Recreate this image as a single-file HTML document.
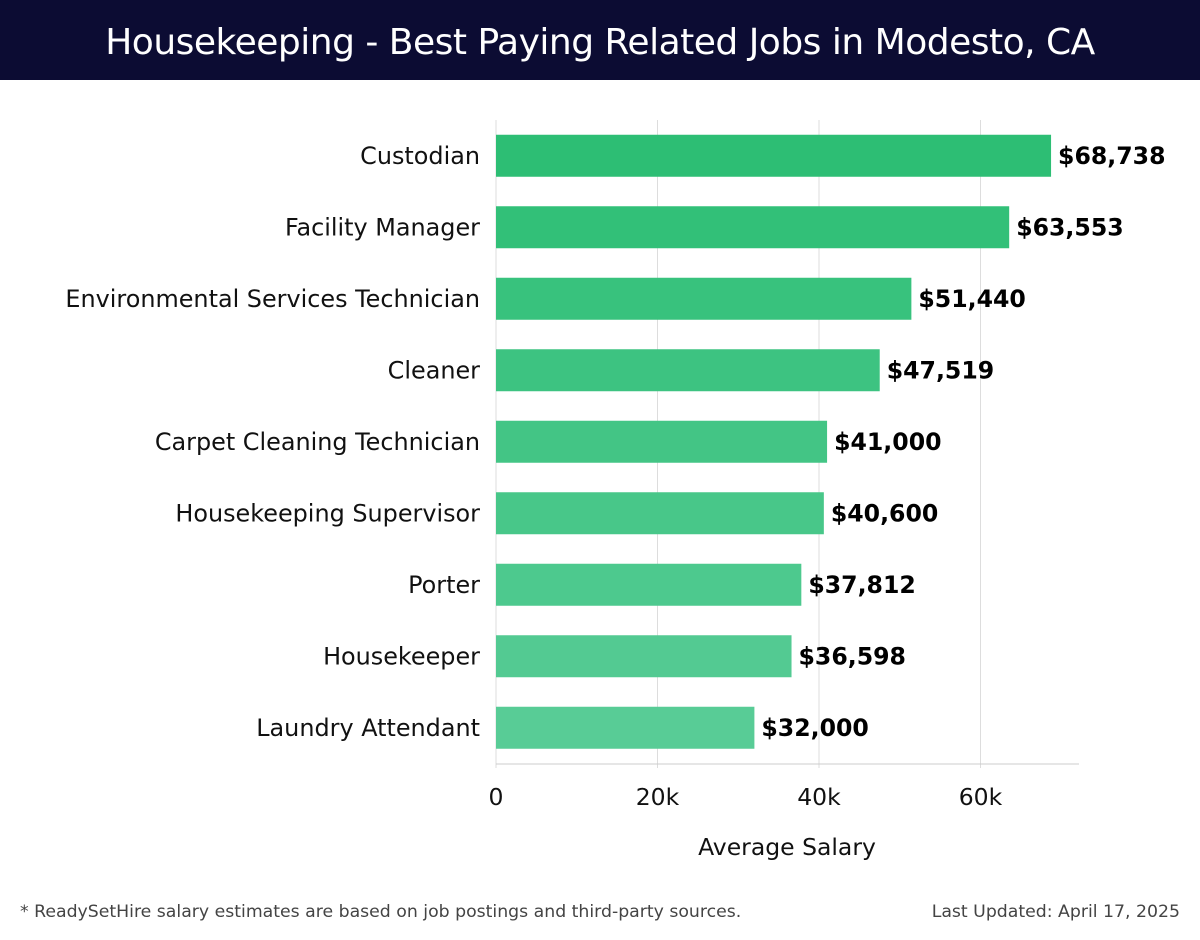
<!DOCTYPE html>
<html><head><meta charset="utf-8"><style>
body{margin:0;width:1200px;height:940px;background:#fff;font-family:"Liberation Sans","DejaVu Sans",sans-serif;overflow:hidden;position:relative}
#hdr{position:absolute;left:0;top:0;width:1200px;height:80px;background:#0c0c33;color:#fff;font-size:36px;text-align:center;line-height:86px;font-family:"DejaVu Sans","Liberation Sans",sans-serif;font-weight:normal;letter-spacing:-0.5px}
.ft{position:absolute;top:902px;font-size:17.3px;color:#444;font-family:"DejaVu Sans",sans-serif}
</style></head><body>
<div id="hdr">Housekeeping - Best Paying Related Jobs in Modesto, CA</div>
<svg id="chart" width="1200" height="880" style="position:absolute;left:0;top:0"></svg>
<div class="ft" style="left:20px">* ReadySetHire salary estimates are based on job postings and third-party sources.</div>
<div class="ft" style="right:20px">Last Updated: April 17, 2025</div>
<script>
const categories=["Custodian","Facility Manager","Environmental Services Technician","Cleaner","Carpet Cleaning Technician","Housekeeping Supervisor","Porter","Housekeeper","Laundry Attendant"];
const values=[68738,63553,51440,47519,41000,40600,37812,36598,32000];
const tickValues=[0,20000,40000,60000];
const tickLabels=["0","20k","40k","60k"];
const NS="http://www.w3.org/2000/svg";
const svg=document.getElementById('chart');
const x0=496,pxPer=161.5/20000,top0=120,band=71.5,barH=42,axisY=764,xEnd=1079;
const xs=v=>x0+v*pxPer;
const yc=i=>top0+band*(i+0.5);
function mk(t,a){const e=document.createElementNS(NS,t);for(const k in a)e.setAttribute(k,a[k]);svg.appendChild(e);return e;}
tickValues.forEach((t,i)=>{
 const g=mk('line',{x1:xs(t),x2:xs(t),y1:top0,y2:axisY+4,stroke:'#ddd','stroke-width':1});
 
 
 const tx=mk('text',{x:xs(t),y:805,'text-anchor':'middle','font-size':23.5,fill:'#111','font-family':'DejaVu Sans, sans-serif'});
 tx.textContent=tickLabels[i];
 
 
});
const ax=mk('line',{x1:x0,x2:xEnd,y1:axisY,y2:axisY,stroke:'#ccc','stroke-width':1});


const c1=[45,190,116],c2=[88,204,150];
values.forEach((v,i)=>{
 const f=i/(values.length-1);
 const c=c1.map((a,k)=>Math.round(a+(c2[k]-a)*f));
 const r=mk('rect',{x:x0,y:yc(i)-barH/2,width:xs(v)-x0,height:barH,fill:`rgb(${c})`});
 
 
 const vl=mk('text',{x:xs(v)+7,y:yc(i)+8,'font-size':23.6,'font-weight':'bold',fill:'#000','font-family':'DejaVu Sans, sans-serif'});
 vl.textContent='$'+v.toLocaleString('en-US');
 
 
 const cl=mk('text',{x:480,y:yc(i)+8,'text-anchor':'end','font-size':23.9,fill:'#111','font-family':'DejaVu Sans, sans-serif'});
 cl.textContent=categories[i];
 
 
});
const xt=mk('text',{x:787,y:855,'text-anchor':'middle','font-size':23.5,fill:'#111','font-family':'DejaVu Sans, sans-serif'});
xt.textContent='Average Salary';


</script>
</body></html>
